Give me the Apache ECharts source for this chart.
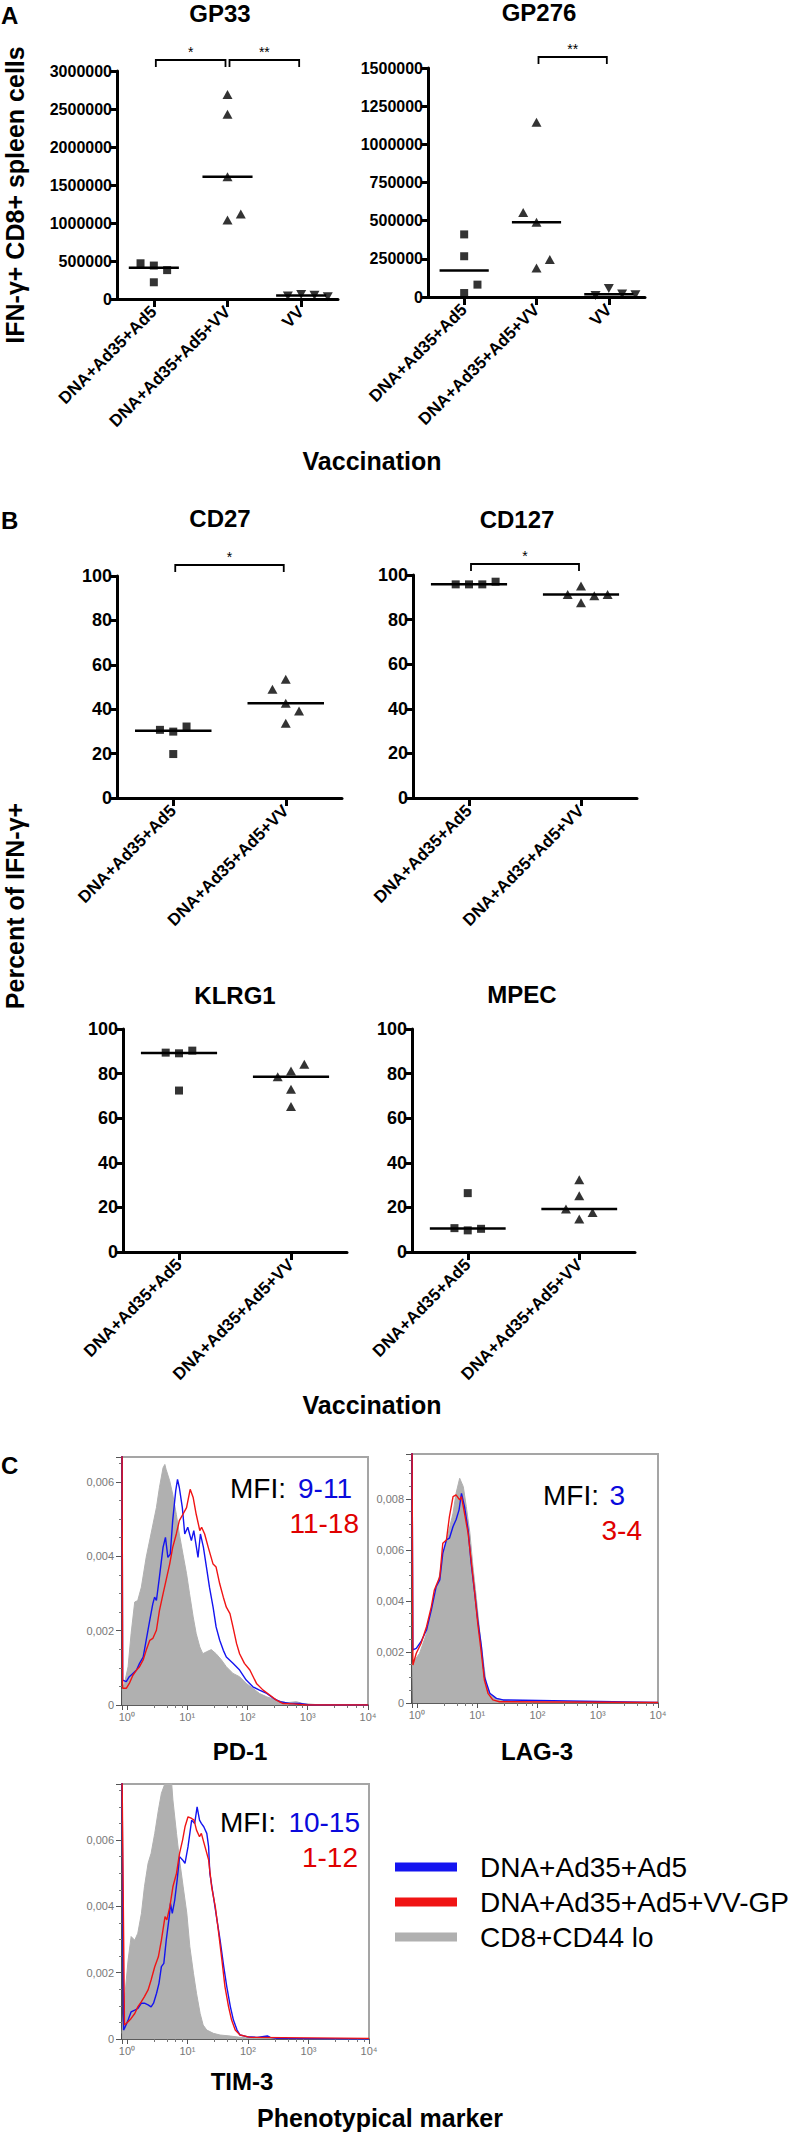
<!DOCTYPE html>
<html>
<head>
<meta charset="utf-8">
<script src="https://cdn.jsdelivr.net/npm/echarts@6.0.0/dist/echarts.min.js"></script>
<style>html,body{margin:0;padding:0;background:#fff}#c{width:800px;height:2133px}</style>
</head>
<body>
<div id="c"></div>
<script>
// ---------------- DATA ----------------
// Panel A: IFN-γ+ CD8+ spleen cells
const groupsA = ['DNA+Ad35+Ad5', 'DNA+Ad35+Ad5+VV', 'VV'];
const gp33Ad5 = [440000, 380000, 470000, 220000];
const gp33Ad5VV = [2690000, 2430000, 1610000, 1040000, 1120000];
const gp33VV = [60000, 50000, 40000, 30000];
const gp276Ad5 = [410000, 267000, 26000, 81000];
const gp276Ad5VV = [1145000, 490000, 190000, 245000, 554000];
const gp276VV = [55000, 20000, 10000, 15000];
const ticksA33 = [0, 3000000, 500000];
const ticksA276 = [0, 1500000, 250000];
const gp33Sig = [[0, 1, '*'], [1, 2, '**']];
const gp276Sig = [[1, 2, '**']];

// Panel B: percent of IFN-γ+
const groupsB = ['DNA+Ad35+Ad5', 'DNA+Ad35+Ad5+VV'];
const cd27Ad5 = [29.9, 32.2, 30.7, 19.8];
const cd27Ad5VV = [53.5, 42.7, 39.2, 49.0, 33.7];
const cd127Ad5 = [95.8, 95.8, 95.8, 97.0];
const cd127Ad5VV = [95.1, 87.6, 90.7, 91.3, 91.3];
const klrg1Ad5 = [89.1, 90.3, 89.4, 72.4];
const klrg1Ad5VV = [81.2, 84.2, 78.6, 73.0, 65.2];
const mpecAd5 = [9.7, 10.4, 10.7, 26.4];
const mpecAd5VV = [32.4, 25.2, 14.8, 17.7, 19.3];
const ticksB = [0, 100, 20];
const cd27Sig = [[0, 1, '*']];
const cd127Sig = [[0, 1, '*']];

// Panel C: histograms [log10 intensity, density]
const pd1Gray = [[-0.08,0.00040],[-0.04,0.00058],[0.02,0.00103],[0.07,0.00192],[0.13,0.00277],[0.18,0.00281],[0.24,0.00317],[0.32,0.00397],[0.40,0.00460],[0.49,0.00531],[0.54,0.00585],[0.60,0.00638],[0.63,0.00647],[0.65,0.00634],[0.71,0.00603],[0.76,0.00567],[0.82,0.00513],[0.87,0.00460],[0.93,0.00406],[0.99,0.00353],[1.04,0.00299],[1.10,0.00237],[1.15,0.00192],[1.21,0.00156],[1.26,0.00138],[1.32,0.00143],[1.40,0.00149],[1.48,0.00138],[1.57,0.00121],[1.65,0.00103],[1.76,0.00085],[1.87,0.00076],[1.98,0.00058],[2.09,0.00045],[2.20,0.00031],[2.32,0.00022],[2.48,0.00013],[2.65,0.00006],[2.81,0.00009],[2.92,0.00004],[3.15,0.00001],[4.0,0]];
const pd1Blue = [[-0.08,0.0070],[-0.07,0.00067],[-0.01,0.00063],[0.04,0.00076],[0.10,0.00085],[0.16,0.00094],[0.21,0.00112],[0.27,0.00129],[0.32,0.00174],[0.38,0.00228],[0.43,0.00272],[0.46,0.00290],[0.49,0.00281],[0.54,0.00344],[0.60,0.00424],[0.64,0.00451],[0.68,0.00397],[0.72,0.00406],[0.76,0.00496],[0.81,0.00576],[0.84,0.00607],[0.87,0.00585],[0.92,0.00531],[0.96,0.00460],[1.01,0.00478],[1.07,0.00442],[1.11,0.00469],[1.18,0.00397],[1.22,0.00460],[1.27,0.00424],[1.32,0.00371],[1.37,0.00317],[1.43,0.00263],[1.48,0.00210],[1.54,0.00174],[1.60,0.00147],[1.65,0.00129],[1.76,0.00112],[1.87,0.00094],[1.98,0.00067],[2.09,0.00049],[2.20,0.00040],[2.32,0.00031],[2.43,0.00018],[2.54,0.00009],[2.70,0.00004],[2.87,0.00004],[3.03,0],[4.0,0]];
const pd1Red = [[-0.08,0.0070],[-0.07,0.00045],[-0.01,0.00045],[0.04,0.00058],[0.10,0.00080],[0.16,0.00094],[0.21,0.00103],[0.27,0.00121],[0.32,0.00147],[0.38,0.00174],[0.43,0.00179],[0.49,0.00201],[0.54,0.00254],[0.60,0.00299],[0.65,0.00335],[0.71,0.00379],[0.76,0.00424],[0.82,0.00460],[0.87,0.00496],[0.93,0.00513],[0.99,0.00531],[1.05,0.00580],[1.10,0.00558],[1.15,0.00513],[1.21,0.00469],[1.24,0.00478],[1.29,0.00460],[1.35,0.00424],[1.43,0.00379],[1.48,0.00371],[1.54,0.00326],[1.60,0.00290],[1.65,0.00263],[1.71,0.00246],[1.76,0.00210],[1.82,0.00165],[1.87,0.00138],[1.95,0.00112],[2.04,0.00094],[2.15,0.00058],[2.26,0.00040],[2.37,0.00027],[2.48,0.00013],[2.59,0.00004],[2.76,0.00003],[2.98,0],[4.0,0]];

const lag3Gray = [[-0.08,0.00150],[-0.07,0.00156],[0.045,0.00195],[0.16,0.00273],[0.27,0.00404],[0.35,0.00469],[0.43,0.00574],[0.52,0.00665],[0.60,0.00744],[0.65,0.00822],[0.71,0.00881],[0.77,0.00848],[0.82,0.00770],[0.88,0.00665],[0.93,0.00535],[0.99,0.00404],[1.04,0.00286],[1.10,0.00169],[1.15,0.00077],[1.21,0.00038],[1.32,0.00018],[1.43,0.00012],[1.60,0.00005],[1.93,0.00001],[4.0,0]];
const lag3Red = [[-0.08,0.0100],[-0.066,0.00149],[-0.01,0.00195],[0.07,0.00234],[0.16,0.00299],[0.24,0.00378],[0.29,0.00443],[0.38,0.00495],[0.43,0.00626],[0.49,0.00639],[0.54,0.00731],[0.60,0.00809],[0.65,0.00816],[0.71,0.00796],[0.74,0.00809],[0.79,0.00744],[0.85,0.00665],[0.90,0.00561],[0.96,0.00430],[1.01,0.00312],[1.07,0.00195],[1.12,0.00090],[1.18,0.00038],[1.26,0.00012],[1.37,0.00005],[4.0,0.00002]];
const lag3Blue = [[-0.08,0.0100],[-0.066,0.00208],[-0.01,0.00214],[0.07,0.00241],[0.16,0.00286],[0.24,0.00365],[0.32,0.00456],[0.38,0.00482],[0.43,0.00587],[0.49,0.00639],[0.54,0.00646],[0.60,0.00692],[0.65,0.00718],[0.70,0.00757],[0.74,0.00822],[0.79,0.00770],[0.85,0.00678],[0.90,0.00548],[0.96,0.00430],[1.01,0.00325],[1.07,0.00221],[1.12,0.00103],[1.21,0.00038],[1.32,0.00018],[1.43,0.00012],[4.0,0.00002]];

const tim3Gray = [[-0.08,0.00017],[-0.04,0.00118],[0.02,0.00238],[0.07,0.00309],[0.13,0.00298],[0.18,0.00319],[0.24,0.00379],[0.29,0.00459],[0.35,0.00530],[0.40,0.00560],[0.46,0.00620],[0.52,0.00690],[0.57,0.00741],[0.63,0.00771],[0.65,0.00790],[0.71,0.00790],[0.74,0.00771],[0.76,0.00721],[0.82,0.00620],[0.87,0.00540],[0.93,0.00459],[0.99,0.00379],[1.04,0.00278],[1.10,0.00198],[1.15,0.00138],[1.21,0.00077],[1.26,0.00042],[1.32,0.00027],[1.43,0.00017],[1.54,0.00012],[1.71,0.00009],[1.87,0.00005],[2.09,0.00002],[4.0,0]];
const tim3Blue = [[-0.08,0.0080],[-0.055,0.00027],[-0.04,0.00032],[0.02,0.00057],[0.07,0.00082],[0.13,0.00087],[0.18,0.00092],[0.24,0.00108],[0.29,0.00108],[0.35,0.00103],[0.40,0.00097],[0.44,0.00108],[0.49,0.00138],[0.53,0.00168],[0.57,0.00218],[0.61,0.00228],[0.65,0.00298],[0.70,0.00369],[0.72,0.00409],[0.75,0.00379],[0.79,0.00419],[0.83,0.00479],[0.87,0.00550],[0.92,0.00540],[0.96,0.00530],[1.01,0.00580],[1.07,0.00660],[1.12,0.00650],[1.16,0.00700],[1.20,0.00660],[1.23,0.00650],[1.27,0.00640],[1.32,0.00620],[1.35,0.00580],[1.37,0.00500],[1.43,0.00429],[1.48,0.00369],[1.54,0.00298],[1.60,0.00218],[1.65,0.00158],[1.71,0.00097],[1.76,0.00057],[1.82,0.00027],[1.87,0.00012],[1.98,0.00007],[2.15,0.00005],[2.32,0.00009],[2.37,0.00005],[2.48,0.00002],[4.0,0]];
const tim3Red = [[-0.08,0.0080],[-0.04,0.00042],[0.02,0.00052],[0.07,0.00062],[0.13,0.00077],[0.18,0.00097],[0.24,0.00113],[0.29,0.00128],[0.35,0.00148],[0.40,0.00178],[0.46,0.00218],[0.52,0.00248],[0.57,0.00298],[0.63,0.00369],[0.66,0.00359],[0.71,0.00399],[0.76,0.00459],[0.82,0.00500],[0.87,0.00560],[0.92,0.00600],[0.96,0.00640],[1.01,0.00670],[1.07,0.00665],[1.11,0.00660],[1.15,0.00630],[1.20,0.00610],[1.23,0.00620],[1.29,0.00580],[1.35,0.00540],[1.40,0.00459],[1.46,0.00399],[1.51,0.00329],[1.57,0.00238],[1.62,0.00158],[1.68,0.00097],[1.73,0.00057],[1.79,0.00027],[1.87,0.00012],[2.04,0.00005],[4.0,0.00002]];

const legendNames = ['DNA+Ad35+Ad5', 'DNA+Ad35+Ad5+VV-GP', 'CD8+CD44 lo'];
const mfiPD1 = ['9-11', '11-18'];
const mfiLAG3 = ['3', '3-4'];
const mfiTIM3 = ['10-15', '1-12'];

// ---------------- BUILD ----------------
const F = '"Liberation Sans", Arial, Helvetica, sans-serif';
const BLUE = '#1414f0', RED = '#f01414', GRAY = '#b0b0b0';

function median(a) {
  const s = a.slice().sort((x, y) => x - y), n = s.length;
  return n % 2 ? s[(n - 1) / 2] : (s[n / 2 - 1] + s[n / 2]) / 2;
}
// horizontal spreading of overlapping points (scatter dot plot style)
function spread(values, pxPerUnit, bandPx) {
  const placed = []; let k = 0;
  return values.map(v => {
    const py = v * pxPerUnit;
    const free = s => placed.every(p => p.slot !== s || Math.abs(p.py - py) >= 11);
    let slot = 0;
    if (!free(0)) {
      const sign = k % 2 === 0 ? 1 : -1; k++;
      for (let d = 1; d < 8; d++) {
        if (free(sign * d)) { slot = sign * d; break; }
        if (free(-sign * d)) { slot = -sign * d; break; }
      }
    }
    placed.push({ slot, py });
    return slot * 13.3 / bandPx;
  });
}

const dotPanels = [
  { cats: groupsA, groups: [gp33Ad5, gp33Ad5VV, gp33VV], sig: gp33Sig, ticks: ticksA33, fs: 16, grid: { left: 117, top: 71, width: 221, height: 228 } },
  { cats: groupsA, groups: [gp276Ad5, gp276Ad5VV, gp276VV], sig: gp276Sig, ticks: ticksA276, fs: 16, grid: { left: 428, top: 68, width: 217, height: 229 } },
  { cats: groupsB, groups: [cd27Ad5, cd27Ad5VV], sig: cd27Sig, ticks: ticksB, fs: 18, grid: { left: 117, top: 576, width: 225, height: 222 } },
  { cats: groupsB, groups: [cd127Ad5, cd127Ad5VV], sig: cd127Sig, ticks: ticksB, fs: 18, grid: { left: 413, top: 575, width: 224, height: 223 } },
  { cats: groupsB, groups: [klrg1Ad5, klrg1Ad5VV], sig: null, ticks: ticksB, fs: 18, grid: { left: 123, top: 1029, width: 224, height: 223 } },
  { cats: groupsB, groups: [mpecAd5, mpecAd5VV], sig: null, ticks: ticksB, fs: 18, grid: { left: 412, top: 1029, width: 223, height: 223 } }
];
const histPanels = [
  { gray: pd1Gray, blue: pd1Blue, red: pd1Red, max: 0.00667, grid: { left: 122, top: 1457, width: 246, height: 248 } },
  { gray: lag3Gray, blue: lag3Blue, red: lag3Red, max: 0.00976, grid: { left: 412, top: 1454, width: 246, height: 249 } },
  { gray: tim3Gray, blue: tim3Blue, red: tim3Red, max: 0.00769, grid: { left: 122, top: 1784, width: 247, height: 255 } }
];

const grids = [], xAxes = [], yAxes = [], series = [];
const symbols = [
  { symbol: 'rect', size: 8, rot: 0 },
  { symbol: 'triangle', size: [10, 9], rot: 0 },
  { symbol: 'triangle', size: [10, 9], rot: 180 }
];

dotPanels.forEach((p, gi) => {
  grids.push(Object.assign({ containLabel: false }, p.grid));
  const [ymin, ymax, yint] = p.ticks;
  xAxes.push({
    type: 'category', gridIndex: gi, data: p.cats, boundaryGap: true, position: 'bottom',
    axisLine: { show: true, onZero: false, lineStyle: { color: '#000', width: 3 } },
    axisTick: { show: true, alignWithLabel: true, length: 8, lineStyle: { color: '#000', width: 3 } },
    axisLabel: { interval: 0, rotate: 45, margin: 10, color: '#000', fontWeight: 'bold', fontSize: 17, fontFamily: F },
    splitLine: { show: false }
  });
  xAxes.push({ type: 'value', gridIndex: gi, min: -0.5, max: p.cats.length - 0.5, show: false,
    axisLine: { onZero: false }, splitLine: { show: false } });
  yAxes.push({
    type: 'value', gridIndex: gi, min: ymin, max: ymax, interval: yint, position: 'left',
    axisLine: { show: true, onZero: false, lineStyle: { color: '#000', width: 3 } },
    axisTick: { show: true, length: 7, lineStyle: { color: '#000', width: 3 } },
    axisLabel: { margin: 5, color: '#000', fontWeight: 'bold', fontSize: p.fs, fontFamily: F, formatter: v => String(v) },
    splitLine: { show: false }
  });
  const xi = 2 * gi + 1;
  const band = p.grid.width / p.cats.length;
  const pxPer = p.grid.height / (ymax - ymin);
  p.groups.forEach((vals, k) => {
    const offs = spread(vals, pxPer, band);
    const s = symbols[k];
    series.push({
      type: 'scatter', name: 'dots' + gi + '_' + k, xAxisIndex: xi, yAxisIndex: gi,
      symbol: s.symbol, symbolSize: s.size, symbolRotate: s.rot,
      itemStyle: { color: '#000' }, data: vals.map((v, i) => [k + offs[i], v]), z: 4, silent: true
    });
    const m = median(vals);
    series.push({
      type: 'line', name: 'median' + gi + '_' + k, xAxisIndex: xi, yAxisIndex: gi,
      data: [[k - 0.34, m], [k + 0.34, m]], symbol: 'none', lineStyle: { color: '#000', width: 2.5 }, z: 3, silent: true
    });
  });
  if (p.sig) {
    const sig = p.sig;
    series.push({
      type: 'custom', name: 'sig' + gi, xAxisIndex: xi, yAxisIndex: gi, silent: true, clip: false,
      data: sig.map(s => [s[0], s[1]]),
      renderItem: (params, api) => {
        const a = api.coord([api.value(0), ymax]);
        const b = api.coord([api.value(1), ymax]);
        const y = a[1] - 11, x1 = a[0] + 2, x2 = b[0] - 2;
        return {
          type: 'group', children: [
            { type: 'polyline', shape: { points: [[x1, y + 7], [x1, y], [x2, y], [x2, y + 7]] }, style: { stroke: '#000', lineWidth: 1.8, fill: null } },
            { type: 'text', style: { text: sig[params.dataIndex][2], x: (x1 + x2) / 2, y: y - 1, align: 'center', verticalAlign: 'bottom', textAlign: 'center', textVerticalAlign: 'bottom', fill: '#000', font: '14px ' + F } }
          ]
        };
      }
    });
  }
});

const sup = ['\u2070', '\u00B9', '\u00B2', '\u00B3', '\u2074'];
histPanels.forEach((h, j) => {
  const gi = dotPanels.length + j;
  grids.push(Object.assign({ show: true, borderColor: '#a5a5a5', borderWidth: 2, backgroundColor: 'transparent' }, h.grid));
  xAxes.push({
    type: 'log', logBase: 10, gridIndex: gi, min: 0.83, max: 10000,
    axisLine: { show: true, onZero: false, lineStyle: { color: '#444', width: 1.5 } },
    axisTick: { show: true, length: 5, lineStyle: { color: '#555' } },
    minorTick: { show: true, splitNumber: 5, length: 3, lineStyle: { color: '#777' } },
    axisLabel: {
      showMinLabel: false, color: '#777', fontSize: 11, fontFamily: F, margin: 6,
      formatter: v => { const l = Math.log10(v), e = Math.round(l); return Math.abs(l - e) < 1e-6 && e >= 0 && e <= 4 ? '10' + sup[e] : ''; }
    },
    splitLine: { show: false }, minorSplitLine: { show: false }
  });
  yAxes.push({
    type: 'value', gridIndex: gi, min: 0, max: h.max, interval: 0.002,
    axisLine: { show: true, onZero: false, lineStyle: { color: '#333', width: 1.5 } },
    axisTick: { show: true, length: 6, lineStyle: { color: '#555' } },
    minorTick: { show: true, splitNumber: 4, length: 3, lineStyle: { color: '#777' } },
    axisLabel: { showMaxLabel: false, color: '#777', fontSize: 11, fontFamily: F, margin: 8, formatter: v => v === 0 ? '0' : v.toFixed(3).replace('.', ',') },
    splitLine: { show: false }, minorSplitLine: { show: false }
  });
  const xi = 2 * dotPanels.length + j;
  const toXY = arr => arr.map(([e, d]) => [Math.pow(10, e), d]);
  series.push({ type: 'line', name: legendNames[2], xAxisIndex: xi, yAxisIndex: gi, data: toXY(h.gray), symbol: 'none', color: GRAY,
    lineStyle: { color: GRAY, width: 1 }, areaStyle: { color: GRAY, opacity: 1 }, itemStyle: { color: GRAY }, z: 2, silent: true });
  series.push({ type: 'line', name: legendNames[0], xAxisIndex: xi, yAxisIndex: gi, data: toXY(h.blue), symbol: 'none', color: BLUE,
    lineStyle: { color: BLUE, width: 1.4 }, itemStyle: { color: BLUE }, z: 3, silent: true });
  series.push({ type: 'line', name: legendNames[1], xAxisIndex: xi, yAxisIndex: gi, data: toXY(h.red), symbol: 'none', color: RED,
    lineStyle: { color: RED, width: 1.4 }, itemStyle: { color: RED }, z: 4, silent: true });
});

const B24 = 'bold 24px ' + F, B25 = 'bold 25px ' + F, R28 = '28px ' + F;
function txt(text, x, y, font, opt) {
  opt = opt || {};
  const al = opt.align || 'center';
  return { type: 'text', x, y, rotation: opt.rot || 0, silent: true, z: 100,
    style: { text, font, fill: opt.color || '#000', align: al, textAlign: al, verticalAlign: 'middle', textVerticalAlign: 'middle' } };
}
const MB = '#0a0adc', MR = '#e00000';
const graphics = [
  txt('A', 1, 15, B24, { align: 'left' }),
  txt('GP33', 220, 13, B24),
  txt('GP276', 539, 12, B24),
  txt('IFN-\u03B3+ CD8+ spleen cells', 15, 195, B25, { rot: Math.PI / 2 }),
  txt('Vaccination', 372, 461, B25),
  txt('B', 1, 520, B24, { align: 'left' }),
  txt('CD27', 220, 518, B24),
  txt('CD127', 517, 519, B24),
  txt('Percent of IFN-\u03B3+', 15, 906, B25, { rot: Math.PI / 2 }),
  txt('KLRG1', 235, 995, B24),
  txt('MPEC', 522, 994, B24),
  txt('Vaccination', 372, 1405, B25),
  txt('C', 1, 1465, B24, { align: 'left' }),
  txt('MFI:', 230, 1488, R28, { align: 'left' }),
  txt(mfiPD1[0], 352, 1488, R28, { align: 'right', color: MB }),
  txt(mfiPD1[1], 359, 1523, R28, { align: 'right', color: MR }),
  txt('MFI:', 543, 1495, R28, { align: 'left' }),
  txt(mfiLAG3[0], 625, 1495, R28, { align: 'right', color: MB }),
  txt(mfiLAG3[1], 642, 1530, R28, { align: 'right', color: MR }),
  txt('MFI:', 220, 1822, R28, { align: 'left' }),
  txt(mfiTIM3[0], 360, 1822, R28, { align: 'right', color: MB }),
  txt(mfiTIM3[1], 358, 1857, R28, { align: 'right', color: MR }),
  txt('PD-1', 240, 1751, B24),
  txt('LAG-3', 537, 1751, B24),
  txt('TIM-3', 242, 2081, B24),
  txt('Phenotypical marker', 380, 2118, B25)
];

const chart = echarts.init(document.getElementById('c'), null, { renderer: 'svg', width: 800, height: 2133 });
chart.setOption({
  animation: false,
  backgroundColor: '#fff',
  grid: grids, xAxis: xAxes, yAxis: yAxes, series,
  legend: {
    data: legendNames, orient: 'vertical', left: 390, top: 1848, icon: 'rect',
    itemWidth: 62, itemHeight: 9, itemGap: 7, selectedMode: false,
    textStyle: { fontSize: 28, color: '#000', fontFamily: F, padding: [0, 0, 0, 18] }
  },
  graphic: graphics
});
</script>
</body>
</html>
